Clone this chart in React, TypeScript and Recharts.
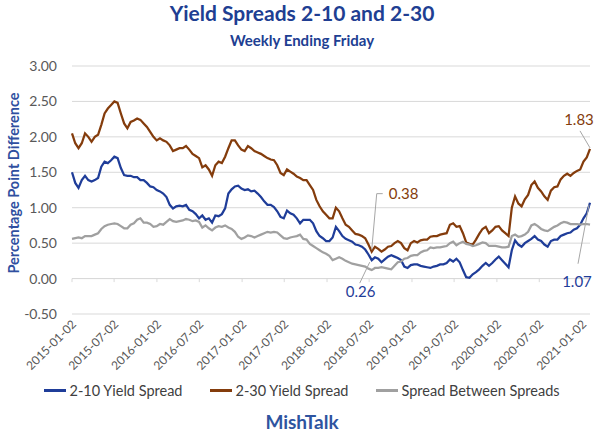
import React from "react";
import { LineChart, Line, XAxis, YAxis, CartesianGrid, ReferenceLine } from "recharts";

const DAY = 86400000;
const START = Date.UTC(2015, 0, 2);

// x-axis tick labels (every 6 months)
const tickLabels = [
  "2015-01-02", "2015-07-02", "2016-01-02", "2016-07-02", "2017-01-02", "2017-07-02",
  "2018-01-02", "2018-07-02", "2019-01-02", "2019-07-02", "2020-01-02", "2020-07-02", "2021-01-02",
];
const yTicks = [-0.5, 0, 0.5, 1, 1.5, 2, 2.5, 3];

// bi-weekly readings, 2015-01-02 .. 2021-02-05
const spread210 = [
  1.50, 1.35, 1.28, 1.39, 1.45, 1.39, 1.37, 1.39, 1.42, 1.58, 1.65, 1.63, 1.67, 1.72, 1.70, 1.56,
  1.46, 1.45, 1.45, 1.43, 1.43, 1.39, 1.39, 1.35, 1.30, 1.29, 1.25, 1.23, 1.20, 1.15, 1.04, 0.99,
  1.02, 1.03, 1.02, 1.04, 0.97, 0.95, 0.91, 0.85, 0.89, 0.83, 0.85, 0.79, 0.89, 0.88, 0.91, 0.99,
  1.20, 1.26, 1.30, 1.31, 1.27, 1.25, 1.26, 1.23, 1.24, 1.20, 1.15, 1.09, 1.04, 1.04, 1.01, 0.95,
  0.87, 0.85, 0.96, 0.92, 0.90, 0.85, 0.78, 0.83, 0.83, 0.83, 0.78, 0.67, 0.60, 0.57, 0.53, 0.53,
  0.58, 0.73, 0.67, 0.60, 0.56, 0.54, 0.52, 0.48, 0.47, 0.45, 0.41, 0.34, 0.26, 0.30, 0.28, 0.23,
  0.27, 0.31, 0.33, 0.31, 0.29, 0.26, 0.17, 0.15, 0.19, 0.20, 0.20, 0.18, 0.17, 0.16, 0.15, 0.17,
  0.18, 0.20, 0.20, 0.22, 0.27, 0.24, 0.28, 0.23, 0.12, 0.02, 0.01, 0.06, 0.09, 0.13, 0.18, 0.22,
  0.18, 0.22, 0.27, 0.31, 0.26, 0.21, 0.16, 0.40, 0.54, 0.48, 0.45, 0.50, 0.53, 0.56, 0.60, 0.55,
  0.53, 0.48, 0.45, 0.53, 0.55, 0.55, 0.60, 0.62, 0.64, 0.65, 0.69, 0.71, 0.76, 0.85, 0.92, 1.07,
];

const spread230 = [
  2.05, 1.91, 1.84, 1.91, 2.05, 2.00, 1.93, 2.00, 2.03, 2.17, 2.33, 2.40, 2.45, 2.50, 2.48, 2.33,
  2.19, 2.12, 2.21, 2.23, 2.26, 2.24, 2.19, 2.14, 2.07, 2.00, 1.95, 1.98, 1.95, 1.93, 1.88, 1.80,
  1.82, 1.84, 1.84, 1.87, 1.82, 1.76, 1.73, 1.70, 1.57, 1.60, 1.54, 1.45, 1.60, 1.65, 1.63, 1.72,
  1.84, 1.95, 1.95, 1.88, 1.82, 1.80, 1.87, 1.84, 1.80, 1.78, 1.76, 1.73, 1.70, 1.68, 1.67, 1.60,
  1.49, 1.46, 1.54, 1.51, 1.48, 1.44, 1.42, 1.39, 1.39, 1.32, 1.25, 1.11, 1.02, 0.95, 0.90, 0.85,
  0.85, 1.00, 0.95, 0.85, 0.76, 0.73, 0.68, 0.63, 0.62, 0.60, 0.57, 0.48, 0.38, 0.45, 0.42, 0.38,
  0.41, 0.45, 0.46, 0.50, 0.53, 0.50, 0.43, 0.40, 0.50, 0.53, 0.51, 0.54, 0.55, 0.55, 0.59, 0.60,
  0.60, 0.62, 0.63, 0.64, 0.76, 0.78, 0.73, 0.74, 0.64, 0.51, 0.49, 0.48, 0.55, 0.63, 0.70, 0.73,
  0.64, 0.68, 0.73, 0.74, 0.68, 0.64, 0.60, 1.00, 1.16, 1.06, 1.02, 1.12, 1.18, 1.32, 1.37, 1.28,
  1.23, 1.16, 1.11, 1.24, 1.29, 1.30, 1.40, 1.45, 1.48, 1.45, 1.49, 1.52, 1.54, 1.65, 1.71, 1.83,
];

const spreadBetween = [
  0.56, 0.57, 0.58, 0.57, 0.60, 0.60, 0.60, 0.62, 0.64, 0.70, 0.74, 0.76, 0.77, 0.78, 0.77, 0.74,
  0.71, 0.71, 0.76, 0.78, 0.83, 0.85, 0.79, 0.79, 0.77, 0.73, 0.74, 0.77, 0.76, 0.80, 0.84, 0.81,
  0.80, 0.81, 0.82, 0.84, 0.83, 0.81, 0.82, 0.80, 0.72, 0.75, 0.71, 0.68, 0.72, 0.74, 0.73, 0.75,
  0.72, 0.70, 0.66, 0.59, 0.56, 0.58, 0.61, 0.60, 0.58, 0.60, 0.62, 0.64, 0.66, 0.65, 0.66, 0.65,
  0.61, 0.57, 0.56, 0.58, 0.59, 0.60, 0.62, 0.56, 0.55, 0.49, 0.46, 0.43, 0.40, 0.37, 0.35, 0.32,
  0.26, 0.28, 0.30, 0.28, 0.25, 0.23, 0.21, 0.20, 0.19, 0.18, 0.17, 0.14, 0.12, 0.15, 0.15, 0.16,
  0.15, 0.14, 0.13, 0.18, 0.23, 0.24, 0.28, 0.29, 0.32, 0.33, 0.33, 0.37, 0.39, 0.40, 0.44, 0.43,
  0.44, 0.44, 0.45, 0.46, 0.50, 0.52, 0.47, 0.50, 0.52, 0.49, 0.48, 0.46, 0.47, 0.49, 0.51, 0.50,
  0.46, 0.46, 0.46, 0.45, 0.44, 0.44, 0.45, 0.60, 0.62, 0.59, 0.60, 0.62, 0.66, 0.75, 0.77, 0.74,
  0.70, 0.68, 0.67, 0.70, 0.73, 0.75, 0.78, 0.80, 0.79, 0.77, 0.77, 0.77, 0.76, 0.77, 0.77, 0.76,
];

const seriesNames = ["2-10 Yield Spread", "2-30 Yield Spread", "Spread Between Spreads"];
const BLUE = "#1f3d99";
const BROWN = "#843c0c";
const GRAY = "#a0a0a0";
const FONT = "Lato, 'Open Sans', sans-serif";

const data = spread210.map((v, i) => ({
  t: i * 14,
  s210: v,
  s230: spread230[i],
  sb: spreadBetween[i],
}));

const tickDays = tickLabels.map((s) => (Date.parse(s + "T00:00:00Z") - START) / DAY);
const fmtDay = (d: number) => new Date(START + d * DAY).toISOString().slice(0, 10);

// call-outs: offsets relative to the data point
type Note = { index: number; text: string; tx: number; ty: number; anchor: string; leader: number[][] };
const notes210: Note[] = [
  { index: 92, text: "0.26", tx: -26, ty: 37, anchor: "start", leader: [[-2, 2], [-12, 23]] },
  { index: 159, text: "1.07", tx: -13, ty: 84, anchor: "middle", leader: [[-1, 2], [-12, 61]] },
];
const notes230: Note[] = [
  { index: 92, text: "0.38", tx: 17, ty: -53, anchor: "start", leader: [[0, -2], [5, -58], [11, -58]] },
  { index: 159, text: "1.83", tx: -11, ty: -24, anchor: "middle", leader: [[0, -1], [-10, -18]] },
];

const makeDot = (notes: Note[], color: string) => (p: any) => {
  const n = notes.find((q) => q.index === p.index);
  if (!n) return <g key={`d-${p.index}`} />;
  const pts = n.leader.map(([dx, dy]) => `${p.cx + dx},${p.cy + dy}`).join(" ");
  return (
    <g key={`d-${p.index}`}>
      <polyline points={pts} fill="none" stroke="#a6a6a6" strokeWidth={1} />
      <text x={p.cx + n.tx} y={p.cy + n.ty} textAnchor={n.anchor as any} fontSize={15} fill={color} fontFamily={FONT}>
        {n.text}
      </text>
    </g>
  );
};

const XTick = ({ x, y, payload }: any) => {
  const tx = x + 5;
  const ty = y + 11;
  return (
    <text x={tx} y={ty} transform={`rotate(-45, ${tx}, ${ty})`} textAnchor="end" fontSize={12} fill="#595959" fontFamily={FONT}>
      {fmtDay(payload.value)}
    </text>
  );
};

export default function App() {
  const legend = [
    { name: seriesNames[0], color: BLUE },
    { name: seriesNames[1], color: BROWN },
    { name: seriesNames[2], color: GRAY },
  ];
  return (
    <div style={{ position: "relative", width: 604, height: 442, background: "#fff", fontFamily: FONT }}>
      <style>{`body{margin:0}`}</style>
      <div style={{ position: "absolute", top: 0, left: 0, width: 604, textAlign: "center", fontSize: 21, fontWeight: 700, color: "#203e92" }}>
        Yield Spreads 2-10 and 2-30
      </div>
      <div style={{ position: "absolute", top: 31, left: 0, width: 604, textAlign: "center", fontSize: 15, fontWeight: 700, color: "#203e92" }}>
        Weekly Ending Friday
      </div>
      <div
        style={{
          position: "absolute",
          left: 13,
          top: 183,
          transform: "translate(-50%, -50%) rotate(-90deg)",
          whiteSpace: "nowrap",
          fontSize: 14.5,
          fontWeight: 700,
          color: "#2f4fa0",
        }}
      >
        Percentage Point Difference
      </div>
      <div style={{ position: "absolute", top: 0, left: 0 }}>
        <LineChart width={604} height={442} data={data} margin={{ top: 66, right: 14, bottom: 67, left: 0 }}>
          <CartesianGrid vertical={false} stroke="#d9d9d9" />
          <XAxis
            dataKey="t"
            type="number"
            domain={[0, 2226]}
            ticks={tickDays}
            interval={0}
            height={61}
            axisLine={false}
            tickLine={false}
            tickSize={0}
            tickMargin={0}
            tick={<XTick />}
          />
          <YAxis
            domain={[-0.5, 3]}
            ticks={yTicks}
            width={72}
            axisLine={false}
            tickLine={false}
            tickSize={0}
            tickMargin={15}
            tickFormatter={(v: number) => v.toFixed(2)}
            tick={{ fontSize: 14, fill: "#595959", fontFamily: FONT }}
          />
          <ReferenceLine y={0} stroke="#d9d9d9" />
          {tickDays.map((d) => (
            <ReferenceLine key={d} segment={[{ x: d, y: 0 }, { x: d, y: -0.05 }]} stroke="#d9d9d9" />
          ))}
          <Line dataKey="s210" name={seriesNames[0]} stroke={BLUE} strokeWidth={2.25} dot={makeDot(notes210, BLUE)} activeDot={false} isAnimationActive={false} />
          <Line dataKey="s230" name={seriesNames[1]} stroke={BROWN} strokeWidth={2.25} dot={makeDot(notes230, BROWN)} activeDot={false} isAnimationActive={false} />
          <Line dataKey="sb" name={seriesNames[2]} stroke={GRAY} strokeWidth={2.25} dot={false} activeDot={false} isAnimationActive={false} />
        </LineChart>
      </div>
      <div style={{ position: "absolute", top: 382, left: 0, width: 604, display: "flex", justifyContent: "center", gap: 28 }}>
        {legend.map((l) => (
          <div key={l.name} style={{ display: "flex", alignItems: "center", fontSize: 14.5, color: "#404040" }}>
            <span style={{ display: "inline-block", width: 22, height: 3, background: l.color, marginRight: 3 }} />
            {l.name}
          </div>
        ))}
      </div>
      <div style={{ position: "absolute", top: 410, left: 0, width: 604, textAlign: "center", fontSize: 19, fontWeight: 700, color: "#2e54a0" }}>
        MishTalk
      </div>
    </div>
  );
}
